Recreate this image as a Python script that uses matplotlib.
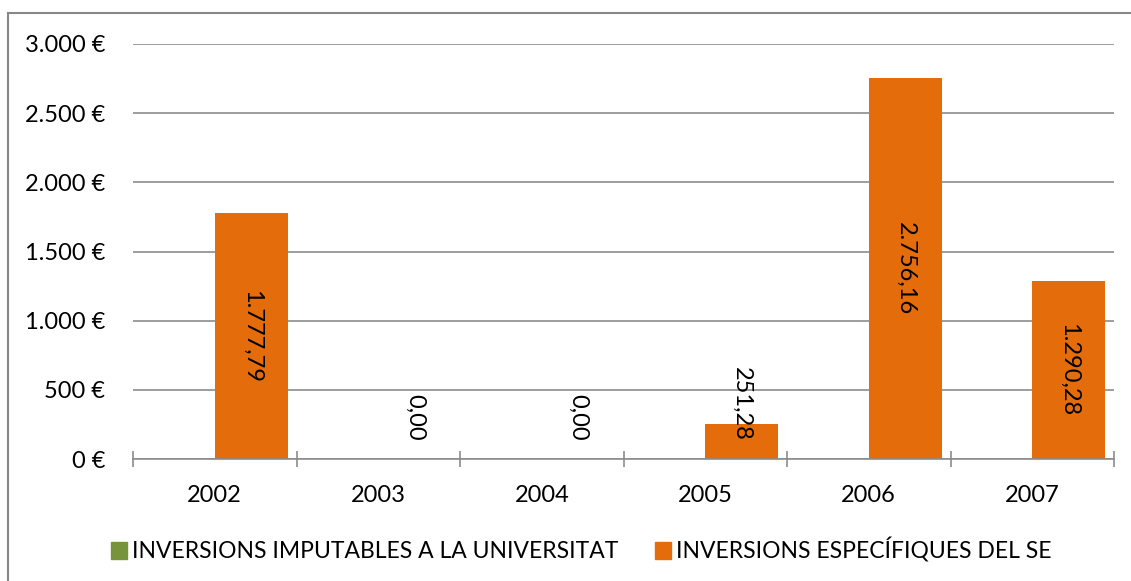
import matplotlib
matplotlib.use("Agg")
import matplotlib.pyplot as plt
from matplotlib.lines import Line2D
from matplotlib.patches import Patch
import numpy as np

plt.rcParams["font.family"] = ["Lato", "DejaVu Sans"]

years = ["2002", "2003", "2004", "2005", "2006", "2007"]
imputables = [0, 0, 0, 0, 0, 0]
especifiques = [1777.79, 0.00, 0.00, 251.28, 2756.16, 1290.28]
series_names = ["INVERSIONS IMPUTABLES A LA UNIVERSITAT", "INVERSIONS ESPECÍFIQUES DEL SE"]
yticks = [0, 500, 1000, 1500, 2000, 2500, 3000]

GREEN = "#77933C"
ORANGE = "#E46C0A"
GRID = "#8C8C8C"


def fmt_num(v, dec=2):
    s = f"{v:,.{dec}f}"
    return s.replace(",", "X").replace(".", ",").replace("X", ".")


fig = plt.figure(figsize=(11.31, 5.81), dpi=100)
ax = fig.add_axes([133 / 1131, 1 - 459 / 581, (1114 - 133) / 1131, (459 - 44) / 581])

x = np.arange(len(years))
w = 0.447
ax.bar(x - w / 2, imputables, w, color=GREEN, zorder=3)
ax.bar(x + w / 2, especifiques, w, color=ORANGE, zorder=3)

for xi, v in zip(x, especifiques):
    label = fmt_num(v)
    if v < 600:
        ax.text(xi + w / 2, 130, label, rotation=270, ha="center", va="bottom",
                fontsize=17, color="black", zorder=4)
    else:
        ax.text(xi + w / 2, v / 2, label, rotation=270, ha="center", va="center",
                fontsize=17, color="black", zorder=4)

ax.set_xlim(-0.5, len(years) - 0.5)
ax.set_ylim(0, 3000)
ax.set_yticks(yticks)
ax.set_yticklabels([fmt_num(t, 0) + " €" for t in yticks])
ax.set_xticks(x)
ax.set_xticklabels(years)
ax.set_xticks(np.arange(len(years) + 1) - 0.5, minor=True)
ax.tick_params(axis="y", length=0, pad=20, labelsize=17)
ax.tick_params(axis="x", which="major", length=0, pad=19, labelsize=17)
ax.tick_params(axis="x", which="minor", direction="inout", length=12, width=1.2, color=GRID)
ax.yaxis.grid(True, color=GRID, linewidth=1.2, zorder=0)
ax.set_axisbelow(True)
for side in ["top", "right", "left"]:
    ax.spines[side].set_visible(False)
ax.spines["bottom"].set_color(GRID)
ax.spines["bottom"].set_linewidth(1.2)
ax.spines["bottom"].set_zorder(5)

handles = [Patch(color=GREEN), Patch(color=ORANGE)]
fig.legend(handles, series_names, loc="center", bbox_to_anchor=(0.514, 1 - 550 / 581),
           ncol=2, frameon=False, fontsize=16.5, handlelength=0.7, handleheight=0.7,
           handletextpad=0.2, columnspacing=1.6)

# outer chart border
fig.add_artist(Line2D([8 / 1131, 8 / 1131], [0, 1 - 13 / 581], color="#888888", linewidth=1.5,
                      transform=fig.transFigure))
fig.add_artist(Line2D([8 / 1131, 1], [1 - 13 / 581, 1 - 13 / 581], color="#888888", linewidth=1.5,
                      transform=fig.transFigure))

fig.savefig("out.png", dpi=100)
